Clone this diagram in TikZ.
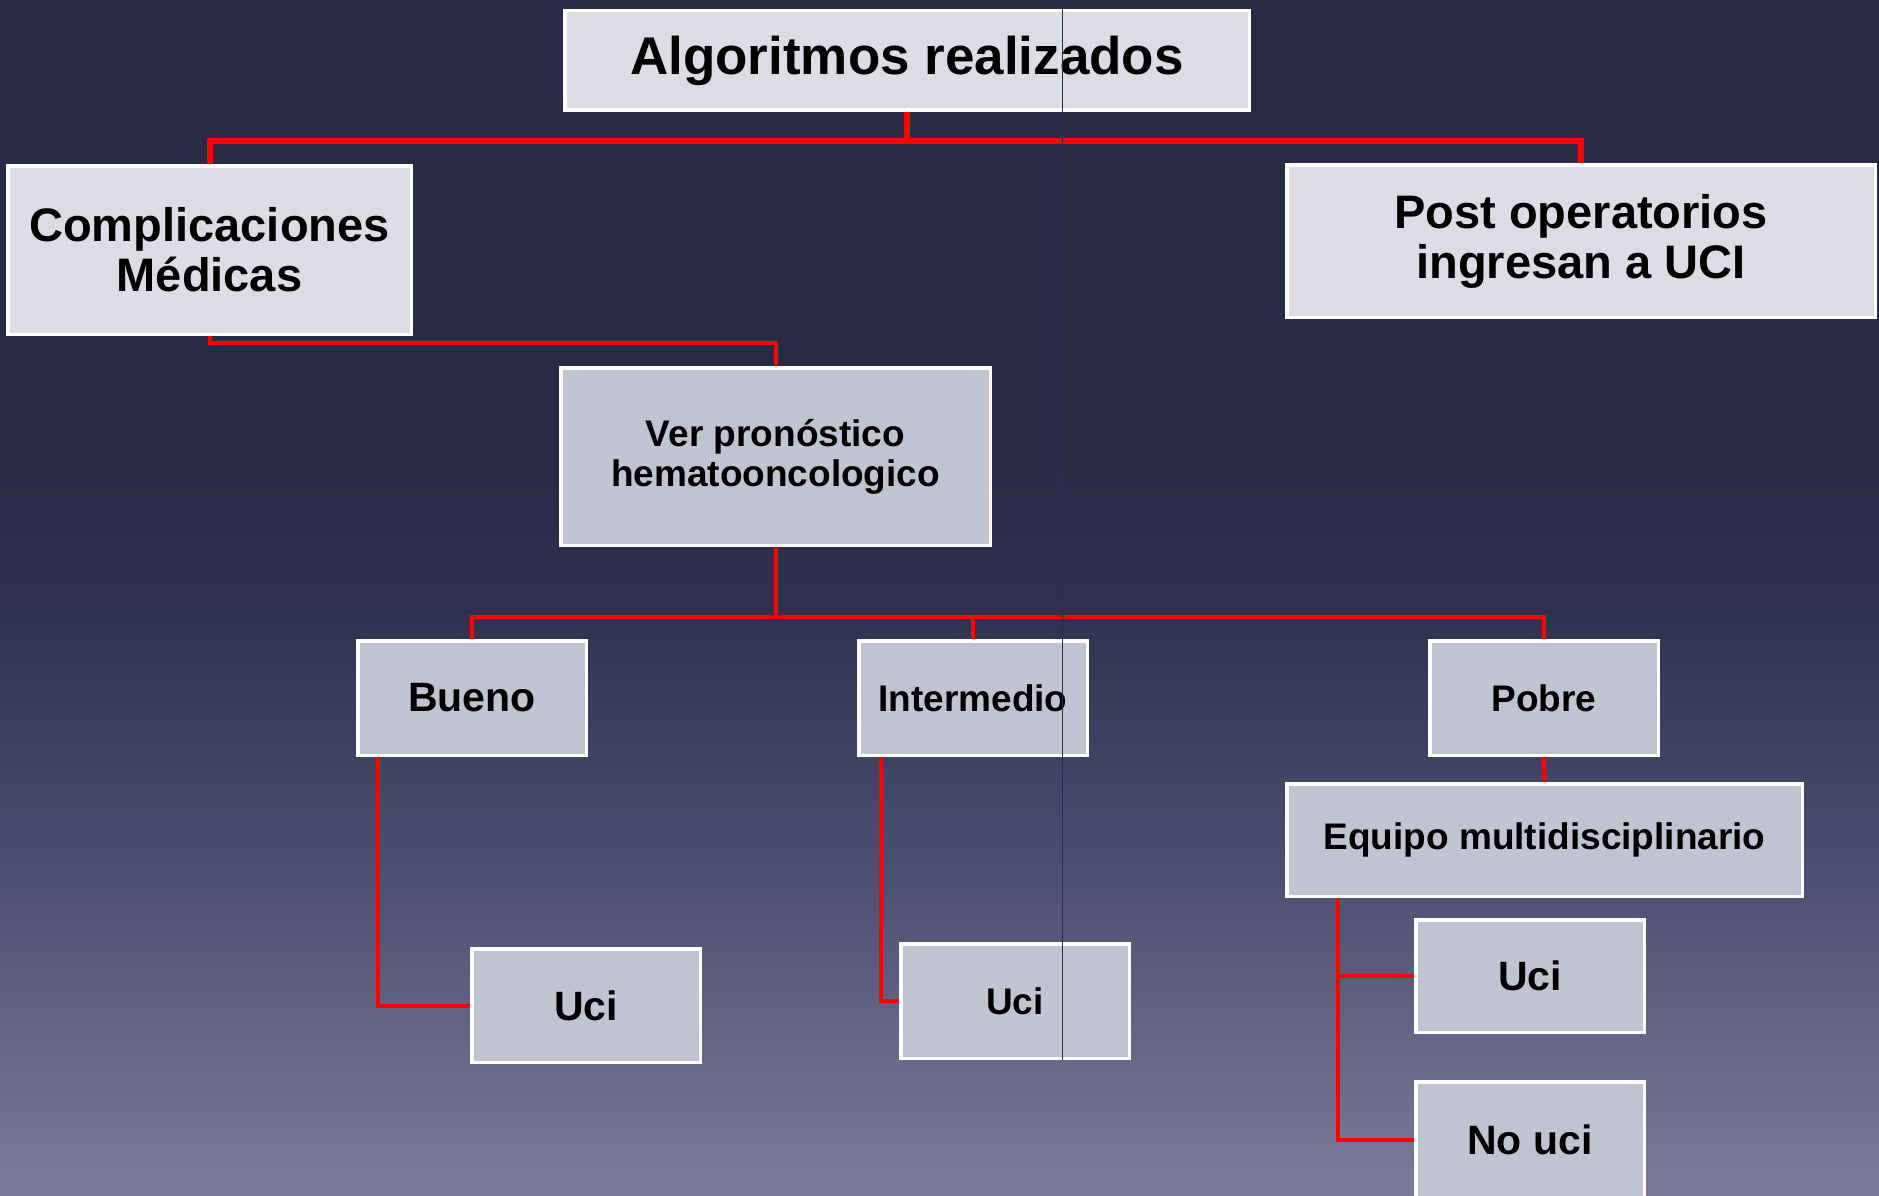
\documentclass[tikz,border=0pt]{standalone}
\usepackage{fontspec}
\setmainfont{Liberation Sans}
\definecolor{bgtop}{HTML}{282A46}
\definecolor{bgupper}{HTML}{2F3150}
\definecolor{bgmiddle}{HTML}{4F5174}
\definecolor{bglow}{HTML}{787896}
\definecolor{headfill}{HTML}{DCDCE4}
\definecolor{stepfill}{HTML}{C1C3D1}
\definecolor{linkred}{HTML}{FF0000}
\definecolor{seamblue}{HTML}{2A2C55}
\pgfdeclareverticalshading{slidebg}{100bp}{color(0bp)=(bglow); color(26bp)=(bglow); color(38bp)=(bgmiddle); color(49.5bp)=(bgupper); color(56bp)=(bgtop); color(100bp)=(bgtop)}

\begin{document}
\begin{tikzpicture}[x=1pt, y=1pt]
    % Define styles
    \tikzset{
        headbox/.style={draw=white, line width=3.5pt, fill=headfill, inner sep=0pt, align=center, font=\bfseries\fontsize{47}{50}\selectfont},
        stepbox/.style={headbox, fill=stepfill, font=\bfseries\fontsize{37}{40}\selectfont},
        smallbox/.style={stepbox, minimum width=228.5pt, minimum height=114.5pt},
        trunkline/.style={draw=linkred, line width=6pt},
        branchline/.style={draw=linkred, line width=4pt}
    }

    % Background
    \useasboundingbox (0,0) rectangle (1879,-1196);
    \clip (0,0) rectangle (1879,-1196);
    \shade[shading=slidebg] (0,0) rectangle (1879,-1196);

    % Top level
    \node[headbox, minimum width=684.5pt, minimum height=99.5pt, font=\bfseries\fontsize{53}{57}\selectfont] (algo) at (907,-60.5) {Algoritmos realizados};
    \node[headbox, minimum width=403.5pt, minimum height=168.5pt] (comp) at (209.5,-250) {Complicaciones\\Médicas};
    \node[headbox, minimum width=588.5pt, minimum height=152.5pt] (post) at (1581,-241) {Post operatorios\\ingresan a UCI};

    % Prognosis
    \node[stepbox, minimum width=429.5pt, minimum height=177.5pt] (ver) at (775.5,-456.5) {Ver pronóstico\\hematooncologico};
    \node[smallbox, font=\bfseries\fontsize{41}{44}\selectfont] (bueno) at (472,-698) {Bueno};
    \node[smallbox] (inter) at (973,-698) {Intermedio};
    \node[smallbox] (pobre) at (1544,-698) {Pobre};
    \node[stepbox, minimum width=515.5pt, minimum height=112.5pt] (equipo) at (1544.5,-840) {Equipo multidisciplinario};

    % Outcomes
    \node[smallbox, minimum height=113.5pt, font=\bfseries\fontsize{41}{44}\selectfont] (uci1) at (586,-1005.5) {Uci};
    \node[smallbox] (uci2) at (1015,-1001) {Uci};
    \node[smallbox, minimum height=112.5pt, font=\bfseries\fontsize{41}{44}\selectfont] (uci3) at (1530,-976) {Uci};
    \node[smallbox, minimum height=116.5pt, font=\bfseries\fontsize{41}{44}\selectfont] (nouci) at (1530,-1140) {No uci};

    % Connectors
    \coordinate (topsplit) at (907,-141);
    \coordinate (versplit) at (775.5,-617);
    \draw[trunkline] (algo.south) -- (topsplit) -| (comp.north);
    \draw[trunkline] (topsplit) -| (post.north);
    \draw[branchline] (comp.south) -- ++(0,-7) -| (ver.north);
    \draw[branchline] (ver.south) -- (versplit);
    \draw[branchline] (versplit) -| (bueno.north);
    \draw[branchline] (versplit) -| (inter.north);
    \draw[branchline] (versplit) -| (pobre.north);
    \draw[branchline] ([xshift=22pt]bueno.south west) |- (uci1.west);
    \draw[branchline] ([xshift=24pt]inter.south west) |- (uci2.west);
    \draw[branchline] (pobre.south) -- (equipo.north);
    \draw[branchline] ([xshift=53pt]equipo.south west) |- (uci3.west);
    \draw[branchline] ([xshift=53pt]equipo.south west) |- (nouci.west);

    % Thin seam
    \draw[seamblue, line width=1pt] (1062,-9) -- (1062,-1060);
\end{tikzpicture}
\end{document}
